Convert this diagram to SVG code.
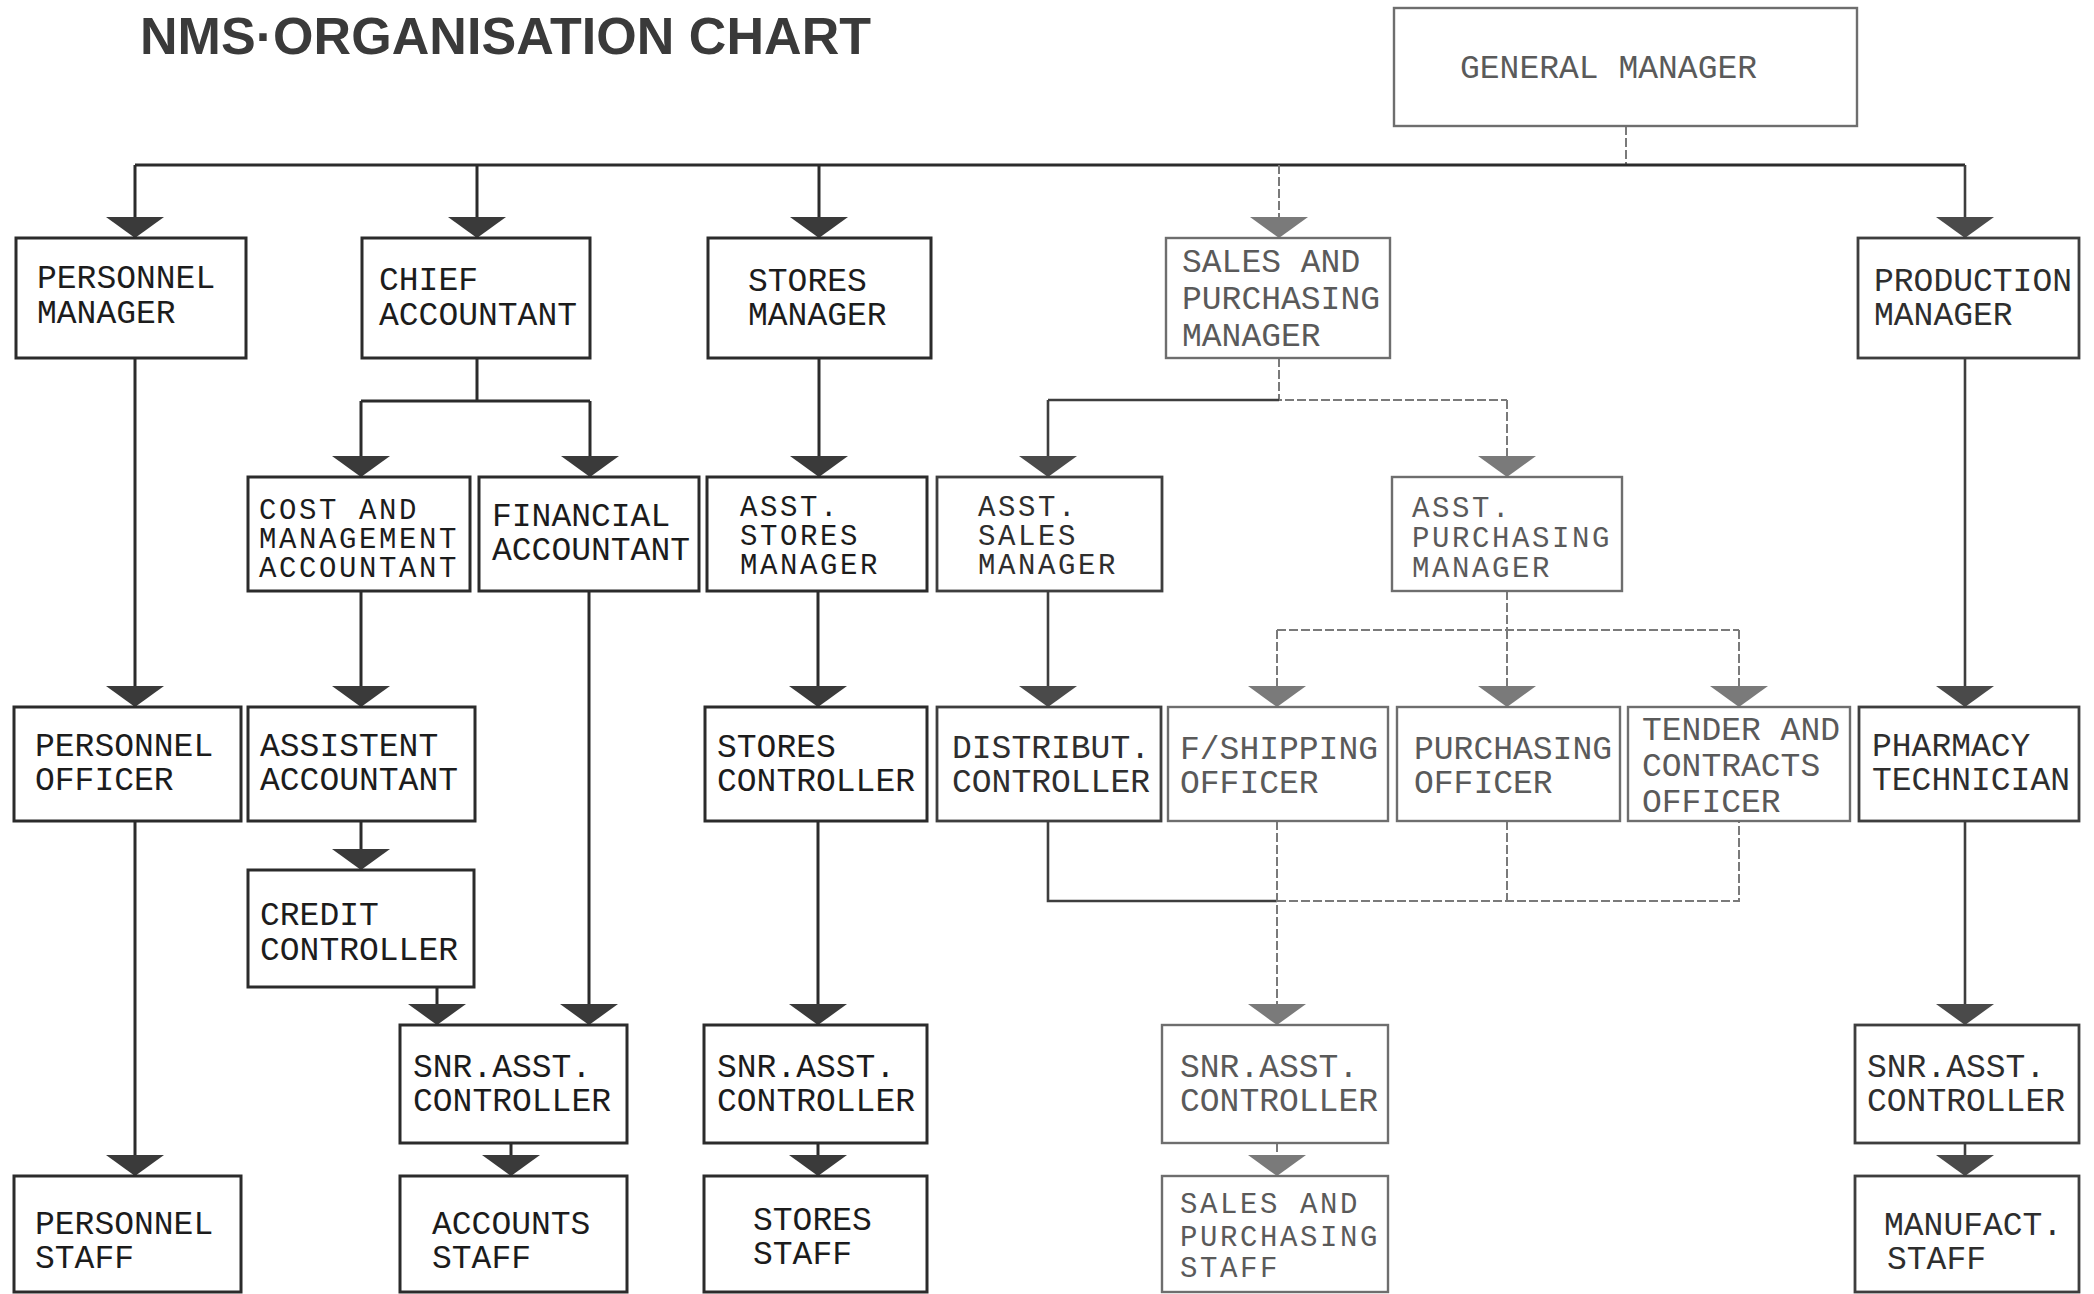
<svg xmlns="http://www.w3.org/2000/svg" width="2094" height="1294" viewBox="0 0 2094 1294">
<defs>
<style>
.box{fill:#fff;stroke:#2b2b2b;stroke-width:3}
.box.m{stroke:#3e3e3e;stroke-width:2.8}
.box.f{stroke:#6e6e6e;stroke-width:2.4}
.t{font-family:"Liberation Mono","DejaVu Sans Mono",monospace;font-size:33px;fill:#1c1c1c}
.t.s{font-size:29px;letter-spacing:2.6px}
.t.m{fill:#2e2e2e}
.t.f{fill:#5a5a5a}
.title{font-family:"Liberation Sans",Arial,sans-serif;font-weight:bold;font-size:52px;fill:#3a3a3a}
.c{fill:none;stroke:#2b2b2b;stroke-width:3}
.c.m{stroke:#3e3e3e;stroke-width:2.6}
.c.f{stroke:#7a7a7a;stroke-width:2;stroke-dasharray:9 3}
</style>
<marker id="ah" markerUnits="userSpaceOnUse" markerWidth="60" markerHeight="60" refX="0" refY="0" orient="auto" overflow="visible" viewBox="-30 -30 60 60">
<path d="M-21,-29 L0,0 L-21,29 Z" fill="#3a3a3a"/>
</marker>
<marker id="ahm" markerUnits="userSpaceOnUse" markerWidth="60" markerHeight="60" refX="0" refY="0" orient="auto" overflow="visible" viewBox="-30 -30 60 60">
<path d="M-21,-29 L0,0 L-21,29 Z" fill="#4a4a4a"/>
</marker>
<marker id="ahf" markerUnits="userSpaceOnUse" markerWidth="60" markerHeight="60" refX="0" refY="0" orient="auto" overflow="visible" viewBox="-30 -30 60 60">
<path d="M-21,-29 L0,0 L-21,29 Z" fill="#7a7a7a"/>
</marker>
</defs>
<rect x="0" y="0" width="2094" height="1294" fill="#fff"/>
<text class="title" x="140" y="54" textLength="731" lengthAdjust="spacing">NMS·ORGANISATION CHART</text>

<g id="connectors">
<path class="c f" d="M1626,126 V165"/>
<path class="c" d="M135,165 H1965"/>
<path class="c" d="M135,165 V238" marker-end="url(#ah)"/>
<path class="c" d="M477,165 V238" marker-end="url(#ah)"/>
<path class="c" d="M819,165 V238" marker-end="url(#ah)"/>
<path class="c f" d="M1279,165 V238" marker-end="url(#ahf)"/>
<path class="c m" d="M1965,165 V238" marker-end="url(#ahm)"/>

<path class="c" d="M477,358 V401 M361,401 H590"/>
<path class="c" d="M361,401 V477" marker-end="url(#ah)"/>
<path class="c" d="M590,401 V477" marker-end="url(#ah)"/>
<path class="c" d="M819,358 V477" marker-end="url(#ah)"/>
<path class="c f" d="M1279,358 V400 H1507"/>
<path class="c m" d="M1279,400 H1048"/>
<path class="c m" d="M1048,400 V477" marker-end="url(#ahm)"/>
<path class="c f" d="M1507,400 V477" marker-end="url(#ahf)"/>

<path class="c" d="M135,358 V707" marker-end="url(#ah)"/>
<path class="c" d="M361,591 V707" marker-end="url(#ah)"/>
<path class="c" d="M818,591 V707" marker-end="url(#ah)"/>
<path class="c m" d="M1048,591 V707" marker-end="url(#ahm)"/>
<path class="c f" d="M1507,591 V630 M1277,630 H1739"/>
<path class="c f" d="M1277,630 V707" marker-end="url(#ahf)"/>
<path class="c f" d="M1507,630 V707" marker-end="url(#ahf)"/>
<path class="c f" d="M1739,630 V707" marker-end="url(#ahf)"/>
<path class="c m" d="M1965,358 V707" marker-end="url(#ahm)"/>

<path class="c m" d="M1048,821 V901 H1277"/>
<path class="c f" d="M1277,901 H1739 V821 M1507,821 V901"/>
<path class="c f" d="M1277,821 V1025" marker-end="url(#ahf)"/>

<path class="c" d="M361,821 V870" marker-end="url(#ah)"/>
<path class="c" d="M437,987 V1025" marker-end="url(#ah)"/>
<path class="c" d="M589,591 V1025" marker-end="url(#ah)"/>
<path class="c" d="M818,821 V1025" marker-end="url(#ah)"/>
<path class="c m" d="M1965,821 V1025" marker-end="url(#ahm)"/>

<path class="c" d="M135,821 V1176" marker-end="url(#ah)"/>
<path class="c" d="M511,1143 V1176" marker-end="url(#ah)"/>
<path class="c" d="M818,1143 V1176" marker-end="url(#ah)"/>
<path class="c f" d="M1277,1143 V1176" marker-end="url(#ahf)"/>
<path class="c m" d="M1965,1143 V1176" marker-end="url(#ahm)"/>
</g>

<g id="general-manager"><rect class="box f" x="1394" y="8" width="463" height="118"/><text class="t f" x="1460" y="78">GENERAL MANAGER</text></g>

<g id="personnel-manager"><rect class="box" x="16" y="238" width="230" height="120"/><text class="t" x="37" y="288">PERSONNEL</text><text class="t" x="37" y="323">MANAGER</text></g>
<g id="chief-accountant"><rect class="box" x="362" y="238" width="228" height="120"/><text class="t" x="379" y="290">CHIEF</text><text class="t" x="379" y="325">ACCOUNTANT</text></g>
<g id="stores-manager"><rect class="box" x="708" y="238" width="223" height="120"/><text class="t" x="748" y="291">STORES</text><text class="t" x="748" y="325">MANAGER</text></g>
<g id="sales-purchasing-manager"><rect class="box f" x="1166" y="238" width="224" height="120"/><text class="t f" x="1182" y="272">SALES AND</text><text class="t f" x="1182" y="309">PURCHASING</text><text class="t f" x="1182" y="346">MANAGER</text></g>
<g id="production-manager"><rect class="box m" x="1858" y="238" width="221" height="120"/><text class="t m" x="1874" y="291">PRODUCTION</text><text class="t m" x="1874" y="325">MANAGER</text></g>

<g id="cost-management-accountant"><rect class="box" x="248" y="477" width="222" height="114"/><text class="t s" x="259" y="519">COST AND</text><text class="t s" x="259" y="548">MANAGEMENT</text><text class="t s" x="259" y="577">ACCOUNTANT</text></g>
<g id="financial-accountant"><rect class="box" x="479" y="477" width="220" height="114"/><text class="t" x="492" y="526">FINANCIAL</text><text class="t" x="492" y="560">ACCOUNTANT</text></g>
<g id="asst-stores-manager"><rect class="box" x="707" y="477" width="220" height="114"/><text class="t s" x="740" y="516">ASST.</text><text class="t s" x="740" y="545">STORES</text><text class="t s" x="740" y="574">MANAGER</text></g>
<g id="asst-sales-manager"><rect class="box m" x="937" y="477" width="225" height="114"/><text class="t s m" x="978" y="516">ASST.</text><text class="t s m" x="978" y="545">SALES</text><text class="t s m" x="978" y="574">MANAGER</text></g>
<g id="asst-purchasing-manager"><rect class="box f" x="1392" y="477" width="230" height="114"/><text class="t s f" x="1412" y="517">ASST.</text><text class="t s f" x="1412" y="547">PURCHASING</text><text class="t s f" x="1412" y="577">MANAGER</text></g>

<g id="personnel-officer"><rect class="box" x="14" y="707" width="227" height="114"/><text class="t" x="35" y="756">PERSONNEL</text><text class="t" x="35" y="790">OFFICER</text></g>
<g id="assistent-accountant"><rect class="box" x="248" y="707" width="227" height="114"/><text class="t" x="260" y="756">ASSISTENT</text><text class="t" x="260" y="790">ACCOUNTANT</text></g>
<g id="stores-controller"><rect class="box" x="705" y="707" width="222" height="114"/><text class="t" x="717" y="757">STORES</text><text class="t" x="717" y="791">CONTROLLER</text></g>
<g id="distribut-controller"><rect class="box m" x="937" y="707" width="224" height="114"/><text class="t m" x="952" y="758">DISTRIBUT.</text><text class="t m" x="952" y="792">CONTROLLER</text></g>
<g id="f-shipping-officer"><rect class="box f" x="1168" y="707" width="220" height="114"/><text class="t f" x="1180" y="759">F/SHIPPING</text><text class="t f" x="1180" y="793">OFFICER</text></g>
<g id="purchasing-officer"><rect class="box f" x="1397" y="707" width="223" height="114"/><text class="t f" x="1414" y="759">PURCHASING</text><text class="t f" x="1414" y="793">OFFICER</text></g>
<g id="tender-contracts-officer"><rect class="box f" x="1628" y="707" width="222" height="114"/><text class="t f" x="1642" y="740">TENDER AND</text><text class="t f" x="1642" y="776">CONTRACTS</text><text class="t f" x="1642" y="812">OFFICER</text></g>
<g id="pharmacy-technician"><rect class="box m" x="1859" y="707" width="220" height="114"/><text class="t m" x="1872" y="756">PHARMACY</text><text class="t m" x="1872" y="790">TECHNICIAN</text></g>

<g id="credit-controller"><rect class="box" x="248" y="870" width="226" height="117"/><text class="t" x="260" y="925">CREDIT</text><text class="t" x="260" y="960">CONTROLLER</text></g>

<g id="snr-asst-controller-accounts"><rect class="box" x="400" y="1025" width="227" height="118"/><text class="t" x="413" y="1077">SNR.ASST.</text><text class="t" x="413" y="1111">CONTROLLER</text></g>
<g id="snr-asst-controller-stores"><rect class="box" x="704" y="1025" width="223" height="118"/><text class="t" x="717" y="1077">SNR.ASST.</text><text class="t" x="717" y="1111">CONTROLLER</text></g>
<g id="snr-asst-controller-sales"><rect class="box f" x="1162" y="1025" width="226" height="118"/><text class="t f" x="1180" y="1077">SNR.ASST.</text><text class="t f" x="1180" y="1111">CONTROLLER</text></g>
<g id="snr-asst-controller-production"><rect class="box m" x="1855" y="1025" width="224" height="118"/><text class="t m" x="1867" y="1077">SNR.ASST.</text><text class="t m" x="1867" y="1111">CONTROLLER</text></g>

<g id="personnel-staff"><rect class="box" x="14" y="1176" width="227" height="116"/><text class="t" x="35" y="1234">PERSONNEL</text><text class="t" x="35" y="1268">STAFF</text></g>
<g id="accounts-staff"><rect class="box" x="400" y="1176" width="227" height="116"/><text class="t" x="432" y="1234">ACCOUNTS</text><text class="t" x="432" y="1268">STAFF</text></g>
<g id="stores-staff"><rect class="box" x="704" y="1176" width="223" height="116"/><text class="t" x="753" y="1230">STORES</text><text class="t" x="753" y="1264">STAFF</text></g>
<g id="sales-purchasing-staff"><rect class="box f" x="1162" y="1176" width="226" height="116"/><text class="t s f" x="1180" y="1213">SALES AND</text><text class="t s f" x="1180" y="1246">PURCHASING</text><text class="t s f" x="1180" y="1277">STAFF</text></g>
<g id="manufact-staff"><rect class="box m" x="1855" y="1176" width="224" height="116"/><text class="t m" x="1884" y="1235">MANUFACT.</text><text class="t m" x="1887" y="1269">STAFF</text></g>
</svg>
